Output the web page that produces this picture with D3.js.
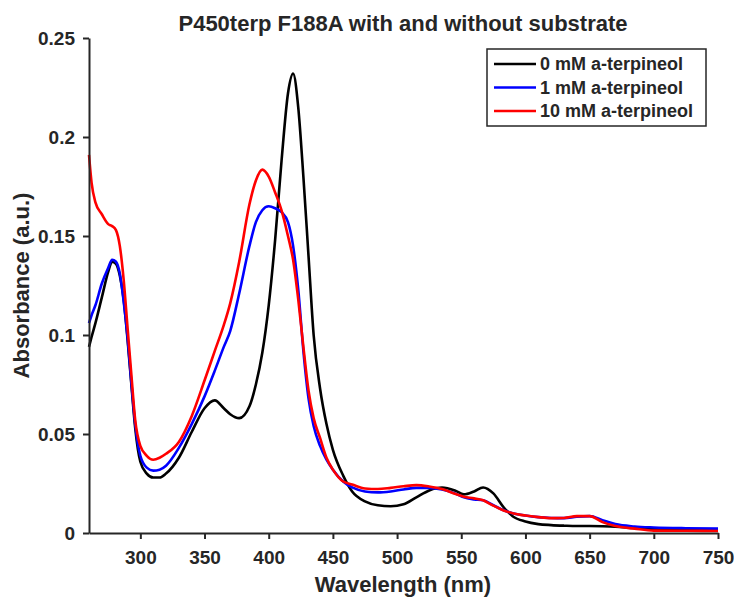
<!DOCTYPE html>
<meta charset="utf-8">
<script src="https://d3js.org/d3.v7.min.js"></script>
<style>
  body { margin: 0; background: #fff; }
  text { font-family: "Liberation Sans", Arial, sans-serif; font-weight: bold; fill: #262626; }
</style>
<div id="chart"></div>
<script>

// wavelengths (nm), shared by the three spectra
var wavelength = [260,262,265,270,275,278,281,284,287,290,293,296,300,305,310,315,320,330,340,350,358,
  365,370,377,385,390,395,400,405,410,415,419,423,427,431,435,440,445,450,458,465,
  475,485,495,505,515,525,535,545,552,560,567,575,583,590,600,610,620,630,640,650,
  660,670,685,700,725,750];

var abs0mM = [0.094,0.099,0.106,0.119,0.132,0.137,0.136,0.130,0.118,0.098,0.075,0.053,0.036,0.030,0.028,0.028,0.030,0.038,0.051,0.063,0.067,
  0.063,0.060,0.058,0.064,0.075,0.091,0.115,0.148,0.188,0.222,0.232,0.215,0.180,0.140,0.100,0.073,0.055,0.042,0.029,0.021,
  0.016,0.014,0.0135,0.0145,0.018,0.0215,0.023,0.0215,0.0195,0.021,0.023,0.020,0.013,0.0085,0.0058,0.0045,0.004,0.0037,0.0035,0.0035,
  0.0034,0.0032,0.0025,0.002,0.0017,0.0015];

var abs1mM = [0.106,0.110,0.115,0.126,0.134,0.138,0.137,0.131,0.117,0.099,0.076,0.055,0.039,0.033,0.0315,0.032,0.034,0.043,0.055,0.069,0.082,
  0.094,0.102,0.121,0.145,0.157,0.163,0.165,0.164,0.162,0.157,0.145,0.123,0.092,0.068,0.054,0.044,0.037,0.032,0.026,0.023,
  0.021,0.0205,0.021,0.022,0.0228,0.0228,0.022,0.020,0.018,0.017,0.0165,0.014,0.0115,0.010,0.0088,0.008,0.0076,0.0075,0.0082,0.0085,
  0.0065,0.0045,0.0033,0.0028,0.0024,0.0022];

var abs10mM = [0.191,0.177,0.167,0.161,0.156,0.155,0.153,0.145,0.128,0.104,0.080,0.057,0.044,0.039,0.037,0.038,0.040,0.046,0.059,0.077,0.092,
  0.105,0.116,0.137,0.166,0.178,0.1835,0.180,0.172,0.163,0.150,0.138,0.118,0.094,0.072,0.058,0.048,0.038,0.032,0.026,0.0245,
  0.0225,0.0222,0.0228,0.0236,0.0242,0.0235,0.0222,0.0198,0.0183,0.0175,0.0165,0.0138,0.0114,0.010,0.0088,0.008,0.0075,0.0076,0.0085,0.0085,
  0.0055,0.0035,0.0022,0.0012,0.0011,0.001];

var seriesNames = ["0 mM a-terpineol", "1 mM a-terpineol", "10 mM a-terpineol"];
var seriesColors = ["#000000", "#0000ff", "#ff0000"];
var xTicks = [300,350,400,450,500,550,600,650,700,750];
var yTicks = [0, 0.05, 0.1, 0.15, 0.2, 0.25];

var width = 734, height = 598;
var svg = d3.select("#chart").append("svg")
  .attr("width", width)
  .attr("height", height);

var x = d3.scaleLinear().domain([260, 750]).range([89, 718]);
var y = d3.scaleLinear().domain([0, 0.25]).range([533, 38]);

// spectra
var allSeries = [abs0mM, abs1mM, abs10mM];
var line = d3.line()
  .x(function(d, i) { return x(wavelength[i]); })
  .y(function(d) { return y(d); })
  .curve(d3.curveMonotoneX);

svg.append("g")
  .selectAll("path")
  .data(allSeries)
  .enter()
  .append("path")
    .attr("d", line)
    .attr("fill", "none")
    .attr("stroke", function(d, i) { return seriesColors[i]; })
    .attr("stroke-width", 2.6)
    .attr("stroke-linejoin", "round");

// axes
var xAxis = svg.append("g")
  .attr("transform", "translate(0," + y(0) + ")")
  .call(d3.axisBottom(x).tickValues(xTicks).tickSize(6).tickPadding(12).tickSizeOuter(0));
var yAxis = svg.append("g")
  .attr("transform", "translate(" + x(260) + ",0)")
  .call(d3.axisLeft(y).tickValues(yTicks).tickSize(6).tickPadding(8).tickSizeOuter(0)
    .tickFormat(function(d) { return d3.format("")(+d.toFixed(2)); }));

[xAxis, yAxis].forEach(function(a) {
  a.select(".domain").attr("stroke", "#262626").attr("stroke-width", 2);
  a.selectAll(".tick line").attr("stroke", "#262626").attr("stroke-width", 2);
  a.selectAll(".tick text").style("font-size", "19px").attr("fill", "#262626");
});

// title and axis labels
svg.append("text")
  .attr("x", 403).attr("y", 31)
  .attr("text-anchor", "middle")
  .style("font-size", "22px")
  .text("P450terp F188A with and without substrate");

svg.append("text")
  .attr("x", 403).attr("y", 592)
  .attr("text-anchor", "middle")
  .style("font-size", "22px")
  .text("Wavelength (nm)");

svg.append("text")
  .attr("transform", "translate(29," + ((y(0) + y(0.25)) / 2) + ") rotate(-90)")
  .attr("text-anchor", "middle")
  .style("font-size", "22px")
  .text("Absorbance (a.u.)");

// legend
var legend = svg.append("g").attr("transform", "translate(487,49)");
legend.append("rect")
  .attr("width", 219).attr("height", 77)
  .attr("fill", "#fff")
  .attr("stroke", "#262626")
  .attr("stroke-width", 1.5);

var item = legend.selectAll(".item")
  .data(seriesNames)
  .enter()
  .append("g")
    .attr("transform", function(d, i) { return "translate(0," + (15 + i * 23.5) + ")"; });
item.append("line")
  .attr("x1", 7).attr("x2", 49)
  .attr("stroke", function(d, i) { return seriesColors[i]; })
  .attr("stroke-width", 2.6);
item.append("text")
  .attr("x", 53).attr("dy", "0.36em")
  .style("font-size", "18px")
  .text(function(d) { return d; });

</script>
